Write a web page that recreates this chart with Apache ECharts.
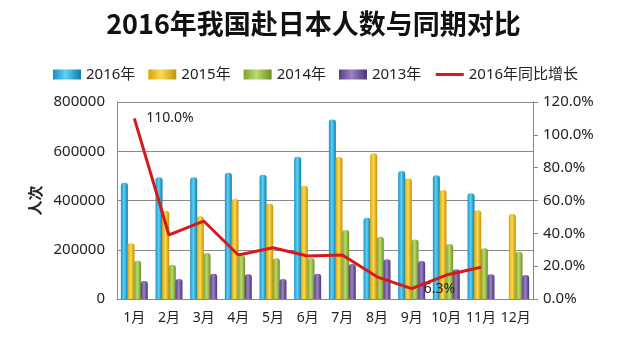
<!DOCTYPE html>
<html><head><meta charset="utf-8">
<script src="https://cdn.jsdelivr.net/npm/echarts@6/dist/echarts.min.js"></script>
<style>html,body{margin:0;padding:0;background:#fff}#c{width:627px;height:339px}</style>
</head><body><div id="c"></div>
<script>
const categories = ['1月','2月','3月','4月','5月','6月','7月','8月','9月','10月','11月','12月'];
const y2016 = [472000, 494000, 494000, 513000, 505000, 578000, 729000, 330000, 520000, 503000, 429000, null];
const y2015 = [226000, 358000, 336000, 406000, 387000, 460000, 577000, 592000, 490000, 443000, 360000, 345000];
const y2014 = [155000, 139000, 187000, 176000, 165000, 166000, 280000, 253000, 242000, 223000, 206000, 192000];
const y2013 = [73000, 81000, 103000, 101000, 81000, 103000, 142000, 161000, 154000, 121000, 101000, 97000];
const growth2016 = [110.0, 39.0, 47.5, 26.8, 31.2, 26.2, 26.8, 13.5, 6.3, 14.6, 19.3, null];
const leftTicks = {min: 0, max: 800000, interval: 200000};
const rightTicks = {min: 0, max: 120, interval: 20};
const labeledPoints = [0, 8];

const FONT = "'Noto Sans','Noto Sans CJK SC',sans-serif";
function grad(dark, light, edge) {
  return new echarts.graphic.LinearGradient(0, 0, 1, 0, [
    {offset: 0, color: dark}, {offset: 0.45, color: light}, {offset: 1, color: edge}
  ]);
}
const barStyles = [
  grad('#1393c8', '#5fd0f3', '#0b7cad'),
  grad('#d9a300', '#fbdb55', '#c59100'),
  grad('#7ea22e', '#badb6e', '#6c8f24'),
  grad('#583d86', '#9a82c6', '#4b3475')
];
function barSeries(name, data, i) {
  return {
    name: name, type: 'bar', data: data, barWidth: 7, barGap: '-5%',
    itemStyle: {color: barStyles[i], borderRadius: [3, 3, 0, 0]}
  };
}

const chart = echarts.init(document.getElementById('c'), null, {renderer: 'canvas'});
chart.setOption({
  animation: false,
  backgroundColor: '#fff',
  textStyle: {fontFamily: FONT},
  title: {
    text: '2016年我国赴日本人数与同期对比', left: 'center', top: 5,
    textStyle: {fontSize: 27, fontWeight: 'bold', color: '#111', fontFamily: "'Noto Sans CJK SC',sans-serif"}
  },
  legend: {
    left: 48, top: 62, itemWidth: 28, itemHeight: 10, itemGap: 13,
    textStyle: {fontSize: 15, color: '#222', fontFamily: FONT},
    data: [
      {name: '2016年', icon: 'rect'}, {name: '2015年', icon: 'rect'},
      {name: '2014年', icon: 'rect'}, {name: '2013年', icon: 'rect'},
      {name: '2016年同比增长', itemStyle: {opacity: 0}, lineStyle: {color: '#d7191c', width: 3}}
    ]
  },
  grid: {left: 117, right: 94, top: 102, bottom: 40},
  xAxis: {
    type: 'category', data: categories,
    axisLine: {lineStyle: {color: '#888'}}, axisTick: {show: false},
    axisLabel: {fontSize: 14, color: '#222', margin: 12, interval: 0}
  },
  yAxis: [{
    type: 'value', min: leftTicks.min, max: leftTicks.max, interval: leftTicks.interval,
    name: '人次', nameLocation: 'middle', nameRotate: 90, nameGap: 68,
    nameTextStyle: {fontSize: 15, fontWeight: 'bold', color: '#222', fontFamily: "'Noto Sans CJK SC',sans-serif"},
    axisLine: {show: true, lineStyle: {color: '#888'}}, axisTick: {show: false},
    axisLabel: {fontSize: 15, color: '#222', margin: 12, formatter: v => String(v)},
    splitLine: {lineStyle: {color: '#8a8a8a', width: 1}}
  }, {
    type: 'value', min: rightTicks.min, max: rightTicks.max, interval: rightTicks.interval,
    position: 'right',
    axisLine: {show: true, lineStyle: {color: '#888'}},
    axisTick: {show: true, length: 5, lineStyle: {color: '#888'}},
    axisLabel: {fontSize: 15, color: '#222', margin: 10, formatter: v => v.toFixed(1) + '%'},
    splitLine: {show: false}
  }],
  series: [
    barSeries('2016年', y2016, 0),
    barSeries('2015年', y2015, 1),
    barSeries('2014年', y2014, 2),
    barSeries('2013年', y2013, 3),
    {
      name: '2016年同比增长', type: 'line', yAxisIndex: 1, data: growth2016,
      symbol: 'none', connectNulls: false,
      lineStyle: {color: '#d7191c', width: 3}, itemStyle: {color: '#d7191c'}, z: 5,
      markPoint: {
        symbol: 'circle', symbolSize: 0, silent: true,
        label: {show: true, position: 'right', distance: 12, color: '#222', fontSize: 14, fontFamily: FONT,
          formatter: p => p.value.toFixed(1) + '%'},
        data: labeledPoints.map(i => ({coord: [i, growth2016[i]], value: growth2016[i]}))
      }
    }
  ]
});
</script></body></html>
